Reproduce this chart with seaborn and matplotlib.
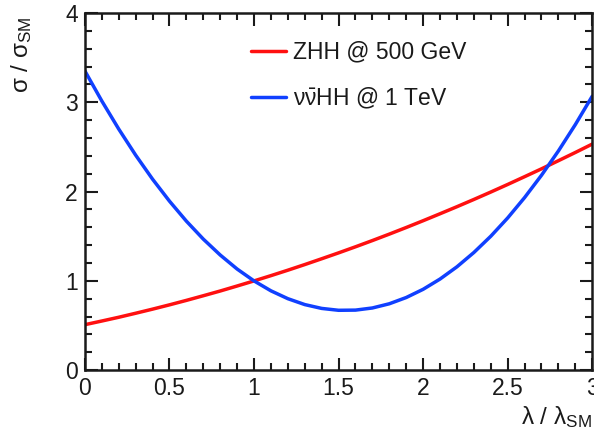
import numpy as np
import pandas as pd
import seaborn as sns
import matplotlib
matplotlib.use("Agg")
import matplotlib.pyplot as plt
from matplotlib.ticker import MultipleLocator

lam = [0.0, 0.1, 0.2, 0.3, 0.4, 0.5, 0.6, 0.7, 0.8, 0.9, 1.0,
       1.1, 1.2, 1.3, 1.4, 1.5, 1.6, 1.7, 1.8, 1.9, 2.0,
       2.1, 2.2, 2.3, 2.4, 2.5, 2.6, 2.7, 2.8, 2.9, 3.0]
zhh_500 = [0.510, 0.551, 0.593, 0.638, 0.684, 0.732, 0.782, 0.834, 0.887, 0.943, 1.000,
           1.059, 1.120, 1.183, 1.248, 1.314, 1.382, 1.452, 1.524, 1.598, 1.674,
           1.752, 1.831, 1.912, 1.995, 2.080, 2.167, 2.255, 2.346, 2.438, 2.532]
nnhh_1tev = [3.350, 3.014, 2.700, 2.408, 2.139, 1.893, 1.669, 1.468, 1.290, 1.133, 1.000,
             0.889, 0.801, 0.735, 0.692, 0.671, 0.673, 0.697, 0.744, 0.814, 0.906,
             1.021, 1.158, 1.318, 1.500, 1.705, 1.933, 2.183, 2.455, 2.750, 3.068]
series_names = ["ZHH @ 500 GeV", r"$\mathrm{\nu\bar{\nu}}$HH @ 1 TeV"]
xticks = [0, 0.5, 1, 1.5, 2, 2.5, 3]
xticklabels = ["0", "0.5", "1", "1.5", "2", "2.5", "3"]
yticks = [0, 1, 2, 3, 4]
yticklabels = ["0", "1", "2", "3", "4"]

df = pd.DataFrame({
    "lam": lam * 2,
    "ratio": zhh_500 + nnhh_1tev,
    "process": [series_names[0]] * len(lam) + [series_names[1]] * len(lam),
})

sns.set_style("ticks")
plt.rcParams["font.family"] = ["Liberation Sans", "DejaVu Sans"]
plt.rcParams["mathtext.fontset"] = "custom"
plt.rcParams["mathtext.rm"] = "Liberation Sans"
plt.rcParams["mathtext.it"] = "Liberation Sans:italic"
plt.rcParams["mathtext.bf"] = "Liberation Sans:bold"

fig = plt.figure(figsize=(5.94, 4.33), dpi=100)
ax = fig.add_axes([0.143, 0.145, 0.854, 0.825])

sns.lineplot(data=df, x="lam", y="ratio", hue="process",
             palette=["#ff1010", "#1040ff"], linewidth=2.5, ax=ax)

ax.set_xlim(0, 3)
ax.set_ylim(0, 4)
ax.set_xticks(xticks)
ax.set_xticklabels(xticklabels)
ax.set_yticks(yticks)
ax.set_yticklabels(yticklabels)
ax.xaxis.set_minor_locator(MultipleLocator(0.1))
ax.yaxis.set_minor_locator(MultipleLocator(0.2))
ax.tick_params(which="both", direction="in", top=True, right=True,
               width=1.5, colors="#1a1a1a", labelsize=16.5, pad=5)
ax.tick_params(which="major", length=9)
ax.tick_params(which="minor", length=5)
for s in ax.spines.values():
    s.set_linewidth(1.8)
    s.set_color("#1a1a1a")

ax.set_xlabel(r"λ / λ$_{\rm SM}$", fontsize=17.5, color="#1a1a1a")
ax.xaxis.set_label_coords(1.0, -0.095)
ax.xaxis.label.set_ha("right")
ax.set_ylabel(r"σ / σ$_{\rm SM}$", fontsize=17.5, color="#1a1a1a")
ax.yaxis.set_label_coords(-0.10, 0.99)
ax.yaxis.label.set_ha("right")

leg = ax.legend(loc="upper left", bbox_to_anchor=(0.286, 0.98), frameon=False,
                fontsize=16.5, handlelength=1.55, handletextpad=0.3,
                labelspacing=0.95)
for t in leg.get_texts():
    t.set_color("#1a1a1a")

fig.savefig("out.png", dpi=100)
